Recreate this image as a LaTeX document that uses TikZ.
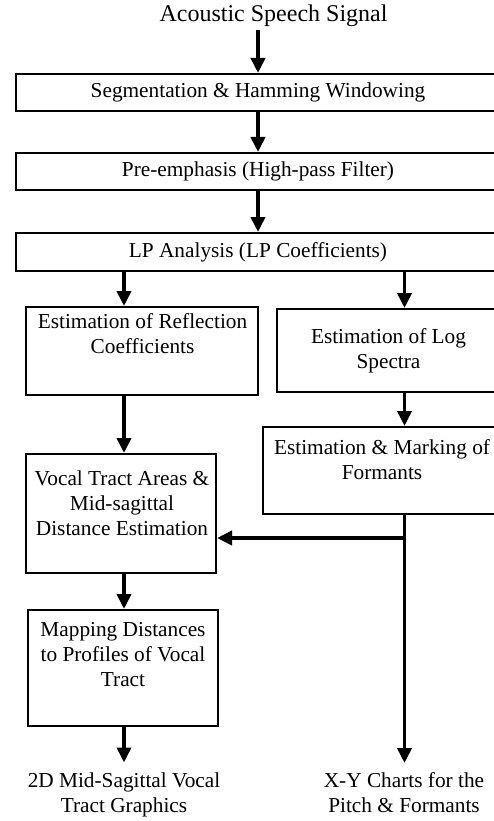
\documentclass[tikz,border=0pt]{standalone}
\usepackage{fontspec}
\setmainfont{Liberation Serif}
\usetikzlibrary{arrows.meta}
\begin{document}
\begin{tikzpicture}[x=1pt,y=-1pt,
  box/.style={draw, line width=2pt, inner sep=0pt, font=\fontsize{21.3}{25}\selectfont, align=center},
  txt/.style={inner sep=0pt, font=\fontsize{21.3}{25}\selectfont, align=center},
  arr/.style={line width=3.6pt, -{Triangle[length=15pt,width=14pt]}}]
\useasboundingbox (0,0) rectangle (494,821);
\clip (0,0) rectangle (494,821);
\node[anchor=base, inner sep=3pt, font=\fontsize{24}{28}\selectfont] (title) at (273.5,22) {Acoustic Speech Signal};
\node[box, minimum width=484pt, minimum height=37pt] (seg) at (258,92.5) {Segmentation \& Hamming Windowing};
\node[box, minimum width=484pt, minimum height=37pt] (pre) at (258,171.5) {Pre-emphasis (High-pass Filter)};
\node[box, minimum width=484pt, minimum height=38pt] (lp) at (258,252) {LP Analysis (LP Coefficients)};
\node[box, minimum width=232pt, minimum height=88pt] (refl) at (142,351) {};
\node[txt, anchor=north] (refltxt) at (142.5,313.5) {Estimation of Reflection\\Coefficients};
\node[box, minimum width=223pt, minimum height=83pt] (logs) at (388.5,350.5) {Estimation of Log\\Spectra};
\node[box, minimum width=238pt, minimum height=87pt] (form) at (382,470.5) {};
\node[txt, anchor=north] (formtxt) at (382,439.5) {Estimation \& Marking of\\Formants};
\node[box, minimum width=190pt, minimum height=119pt] (vocal) at (121,513.5) {};
\node[txt, anchor=north] (vocaltxt) at (122,471) {Vocal Tract Areas \&\\Mid-sagittal\\Distance Estimation};
\node[box, minimum width=190pt, minimum height=116pt] (map) at (123,668) {};
\node[txt, anchor=north] (maptxt) at (123,622) {Mapping Distances\\to Profiles of Vocal\\Tract};
\node[txt, anchor=north] (out1) at (124,772.5) {2D Mid-Sagittal Vocal\\Tract Graphics};
\node[txt, anchor=north] (out2) at (404,772.5) {X-Y Charts for the\\Pitch \& Formants};
\coordinate (cl) at (124,0);
\coordinate (cr) at (404.5,0);
\coordinate (o1) at ([yshift=10pt]out1.north);
\coordinate (o2) at ([yshift=9.5pt]out2.north);
\coordinate (br) at (404.5,538);
\draw[arr] (title.south -| seg.north) -- (seg.north);
\draw[arr] (seg.south) -- (pre.north);
\draw[arr] (pre.south) -- (lp.north);
\draw[arr] (lp.south -| cl) -- (refl.north -| cl);
\draw[arr] (lp.south -| cr) -- (logs.north -| cr);
\draw[arr] (logs.south -| cr) -- (form.north -| cr);
\draw[arr] (refl.south -| cl) -- (vocal.north -| cl);
\draw[arr] (vocal.south -| cl) -- (map.north -| cl);
\draw[arr] (map.south -| cl) -- (o1 -| cl);
\draw[arr] (form.south -| cr) -- (o2 -| cr);
\draw[arr] (br) -- (br -| vocal.east);
\end{tikzpicture}
\end{document}
